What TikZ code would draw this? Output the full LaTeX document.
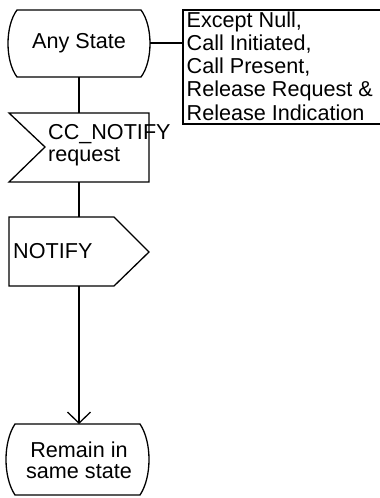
\documentclass[tikz,border=0pt]{standalone}
\usepackage{fontspec}
\setmainfont{Liberation Sans}
\usetikzlibrary{arrows.meta}
\newcommand{\linesL}[2]{{\fontsize{21.6}{#1}\selectfont\begin{tabular}[t]{@{}l@{}}#2\end{tabular}}}
\newcommand{\linesC}[2]{{\fontsize{21.6}{#1}\selectfont\begin{tabular}[t]{@{}c@{}}#2\end{tabular}}}
\begin{document}
\begin{tikzpicture}[x=1pt,y=-1pt,
  shapeline/.style={line width=1.3pt, line join=miter},
  lbl/.style={inner sep=0pt, font=\fontsize{21.6}{23}\selectfont}]
\useasboundingbox (0,0) rectangle (380,498);
% Any State
\draw[shapeline] (17,10) -- (141,10) .. controls (153,26) and (153,61) .. (141,77)
  -- (17,77) .. controls (5,61) and (5,26) .. (17,10) -- cycle;
\node[lbl, anchor=base] (anystate) at (79,48.5) {Any State};
\coordinate (asR) at (150,43);
\coordinate (asB) at (79,77);
% Comment box
\draw[shapeline] (380,10) -- (183,10) -- (183,124) -- (380,124);
\coordinate (cmtL) at (183,43);
\node[lbl, anchor=base west] (comment) at (186.5,27) {\linesL{23.25}{Except Null,\\Call Initiated,\\Call Present,\\Release Request \&\\Release Indication}};
% CC_NOTIFY input
\draw[shapeline] (9,113) -- (149,113) -- (149,182) -- (9,182) -- (45,147) -- cycle;
\coordinate (inT) at (79,113);
\coordinate (inB) at (79,182);
\node[lbl, anchor=base west] (ccnotify) at (48,139.5) {\linesL{22}{CC\_NOTIFY\\request}};
% NOTIFY output
\draw[shapeline] (9,217) -- (114,217) -- (149,252) -- (114,286) -- (9,286) -- cycle;
\coordinate (outT) at (79,217);
\coordinate (outB) at (79,286);
\node[lbl, anchor=base west] (notify) at (13,258) {NOTIFY};
% Remain in same state
\draw[shapeline] (15,424) -- (140,424) .. controls (152,442) and (152,477) .. (140,495)
  -- (15,495) .. controls (3,477) and (3,442) .. (15,424) -- cycle;
\coordinate (remT) at (79,424);
\node[lbl, anchor=base] (remain) at (79,457) {\linesC{21.5}{Remain in\\same state}};
% connectors
\draw[shapeline] (asR) -- (cmtL);
\draw[shapeline] (asB) -- (inT);
\draw[shapeline] (inB) -- (outT);
\draw[shapeline, -{Straight Barb[length=11pt,width=23pt,line width=1.3pt]}] (outB) -- (remT);
\end{tikzpicture}
\end{document}
